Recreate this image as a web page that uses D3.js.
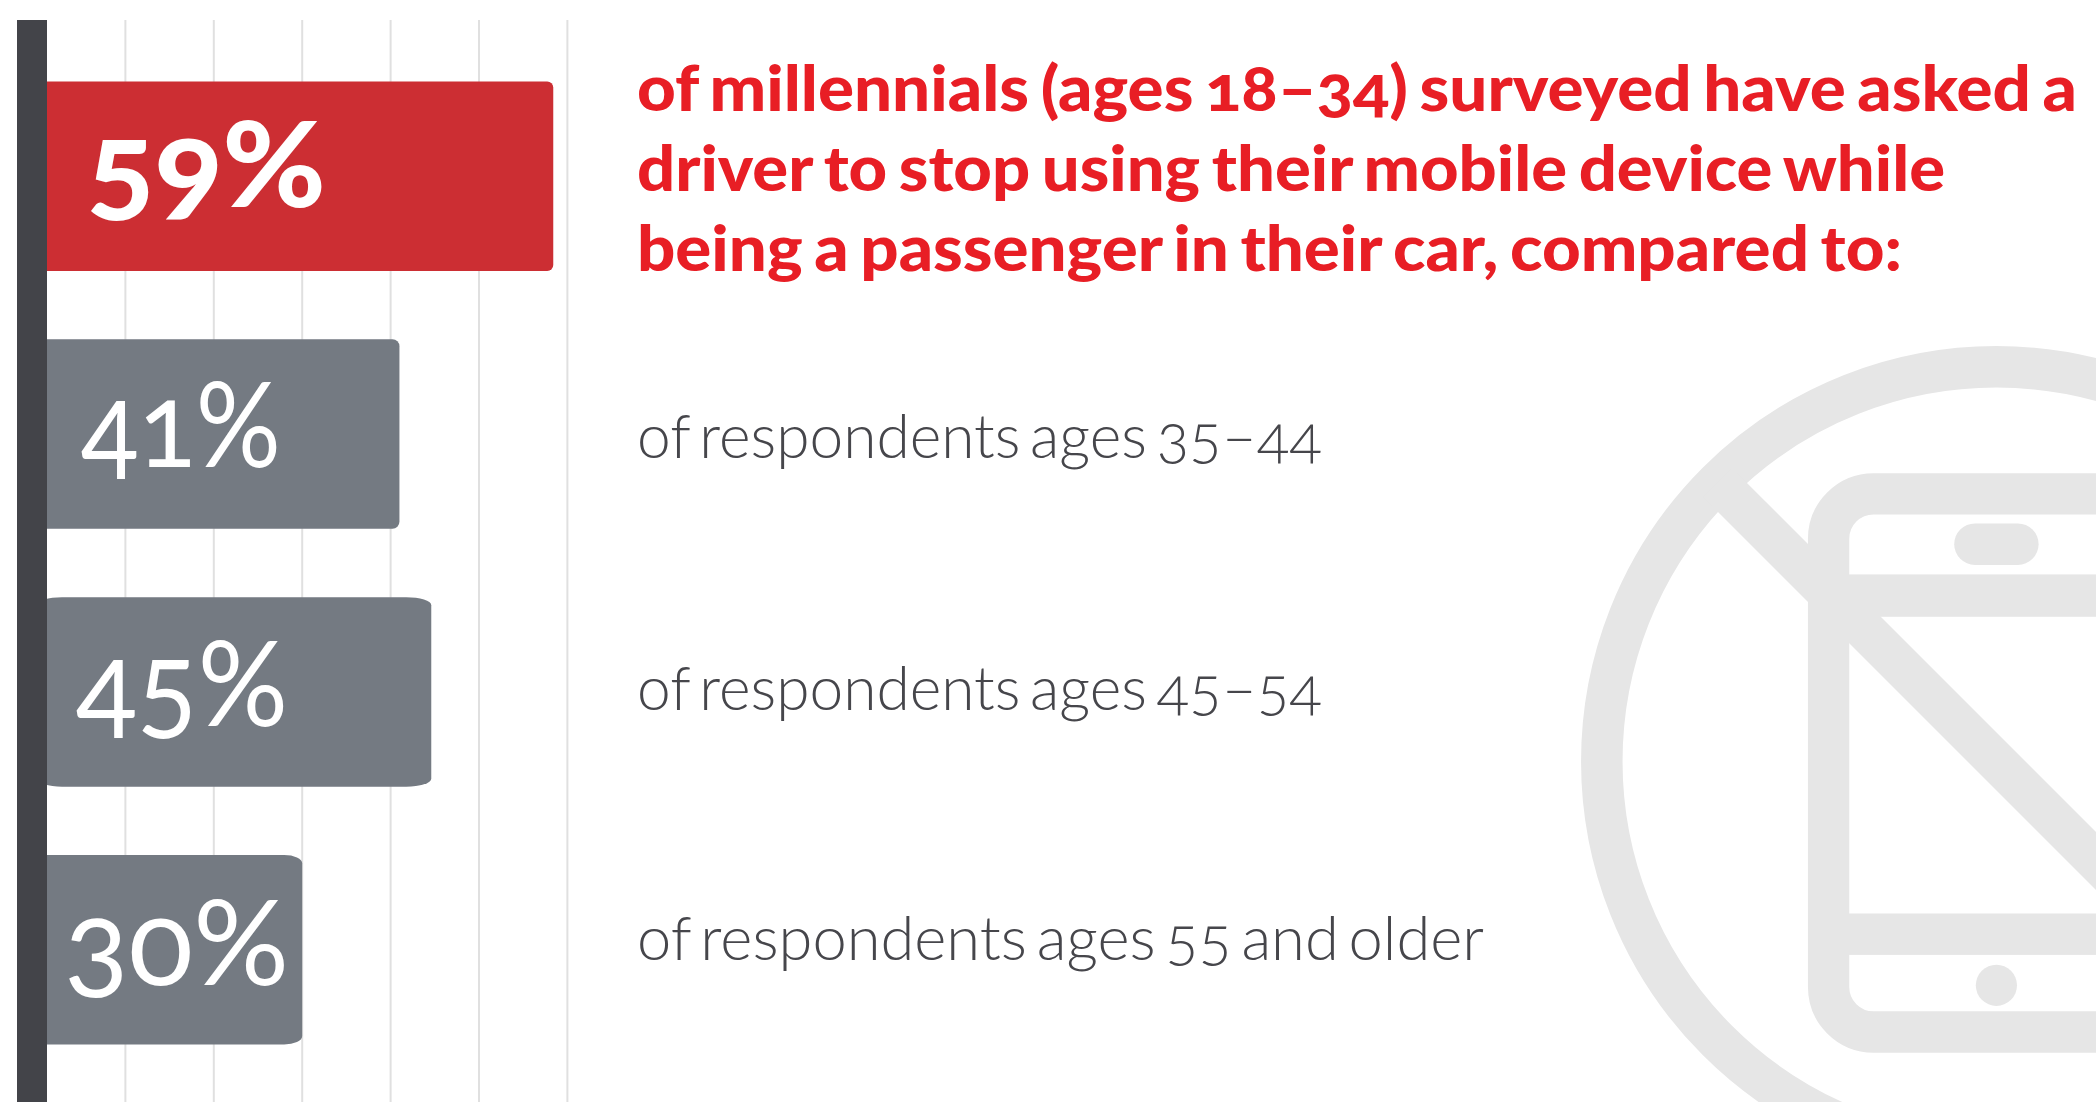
<!DOCTYPE html>
<html>
<head>
<meta charset="utf-8">
<script src="https://d3js.org/d3.v7.min.js"></script>
<style>
  html, body { margin: 0; padding: 0; background: #fff; }
  svg { display: block; }
  text { font-feature-settings: "onum", "kern", "liga"; font-variant-numeric: oldstyle-nums; }
</style>
</head>
<body>
<script>
// data
var categories = ["18-34", "35-44", "45-54", "55+"];
var barLengths = [58.4, 41, 44.6, 30];   // drawn lengths, the bars are not quite to scale
var valueLabels = ["59%", "41%", "45%", "30%"];
var gridValues = [10, 20, 30, 40, 50, 60];
var headingLines = [
  "of millennials (ages 18–34) surveyed have asked a",
  "driver to stop using their mobile device while",
  "being a passenger in their car, compared to:"
];
var rowLabels = [
  "of respondents ages 35–44",
  "of respondents ages 45–54",
  "of respondents ages 55 and older"
];

var width = 2096, height = 1102;

var x = d3.scaleLinear().domain([0, 60]).range([37, 567.4]);
var y = d3.scaleBand().domain(categories).range([81.4, 1044.6]).paddingInner(0.265);

// per bar tweaks, the source artwork is uneven
var cornerRx = [6, 7, 25, 18];
var cornerRy = [6, 7, 8, 8.5];
var startNudge = [0, 0, 0, 8];
var labelLeft = [87, 81, 76, 64];
var labelWidth = [239, 200, 212, 225];
var labelBase = [207, 467, 726, 985];

var svg = d3.select("body").append("svg")
  .attr("width", width)
  .attr("height", height);

// no-phone icon, behind everything
var icon = svg.append("g").attr("fill", "#e6e6e6").attr("stroke", "none");
var cx = 1996.4, cy = 761.4;

icon.append("circle")
  .attr("cx", cx).attr("cy", cy).attr("r", 394.6)
  .attr("fill", "none").attr("stroke", "#e6e6e6").attr("stroke-width", 41.5);

icon.append("rect")   // body
  .attr("x", 1828.6).attr("y", 493.8)
  .attr("width", 335.6).attr("height", 538.2)
  .attr("rx", 45)
  .attr("fill", "none").attr("stroke", "#e6e6e6").attr("stroke-width", 41.3);

icon.append("rect").attr("x", 1849).attr("y", 574.4).attr("width", 295).attr("height", 42.4);
icon.append("rect").attr("x", 1849).attr("y", 913.5).attr("width", 295).attr("height", 41.4);
icon.append("rect").attr("x", 1954.2).attr("y", 523.5).attr("width", 84.4).attr("height", 41.4).attr("rx", 20.7);
icon.append("circle").attr("cx", cx).attr("cy", 985.3).attr("r", 20.6);

icon.append("line")   // slash
  .attr("x1", cx - 279).attr("y1", cy - 279)
  .attr("x2", cx + 279).attr("y2", cy + 279)
  .attr("stroke", "#e6e6e6").attr("stroke-width", 41);

// grid
svg.selectAll("line.grid")
  .data(gridValues)
  .enter().append("line")
  .attr("class", "grid")
  .attr("x1", function(d) { return x(d); })
  .attr("x2", function(d) { return x(d); })
  .attr("y1", 20)
  .attr("y2", height)
  .attr("stroke", "#e0e0e0")
  .attr("stroke-width", 2);

// bars
svg.selectAll("rect.bar")
  .data(categories)
  .enter().append("rect")
  .attr("class", "bar")
  .attr("x", function(d, i) { return x(0) - startNudge[i]; })
  .attr("y", function(d) { return y(d); })
  .attr("width", function(d, i) { return x(barLengths[i]) - x(0) + startNudge[i]; })
  .attr("height", y.bandwidth())
  .attr("rx", function(d, i) { return cornerRx[i]; })
  .attr("ry", function(d, i) { return cornerRy[i]; })
  .attr("fill", function(d, i) { return i === 0 ? "#cc2e33" : "#747a82"; });

// axis bar
svg.append("rect")
  .attr("x", 17).attr("y", 20)
  .attr("width", 30).attr("height", height - 20)
  .attr("fill", "#434449");

// values in the bars
svg.selectAll("text.value")
  .data(valueLabels)
  .enter().append("text")
  .attr("class", "value")
  .attr("x", function(d, i) { return labelLeft[i]; })
  .attr("y", function(d, i) { return labelBase[i]; })
  .attr("textLength", function(d, i) { return labelWidth[i]; })
  .attr("lengthAdjust", "spacingAndGlyphs")
  .style("font-family", "Lato, sans-serif")
  .style("font-size", "118px")
  .style("font-weight", function(d, i) { return i === 0 ? 900 : 400; })
  .attr("fill", "#fff")
  .text(function(d) { return d; });

// heading
var headingWidth = [1440, 1308, 1265];
svg.selectAll("text.heading")
  .data(headingLines)
  .enter().append("text")
  .attr("class", "heading")
  .attr("x", 637)
  .attr("y", function(d, i) { return 111 + i * 80; })
  .attr("textLength", function(d, i) { return headingWidth[i]; })
  .attr("lengthAdjust", "spacingAndGlyphs")
  .style("font-family", "Lato, sans-serif")
  .style("font-size", "62px")
  .style("font-weight", 900)
  .style("word-spacing", "-4px")
  .attr("fill", "#e81e25")
  .text(function(d) { return d; });

// row labels
var rowWidth = [685, 685, 847];
var rowBase = [458, 710, 960];
svg.selectAll("text.row")
  .data(rowLabels)
  .enter().append("text")
  .attr("class", "row")
  .attr("x", 637)
  .attr("y", function(d, i) { return rowBase[i]; })
  .attr("textLength", function(d, i) { return rowWidth[i]; })
  .attr("lengthAdjust", "spacingAndGlyphs")
  .style("font-family", "Lato, sans-serif")
  .style("font-size", "62px")
  .style("font-weight", 300)
  .style("word-spacing", "-7px")
  .attr("fill", "#46464b")
  .text(function(d) { return d; });
</script>
</body>
</html>
